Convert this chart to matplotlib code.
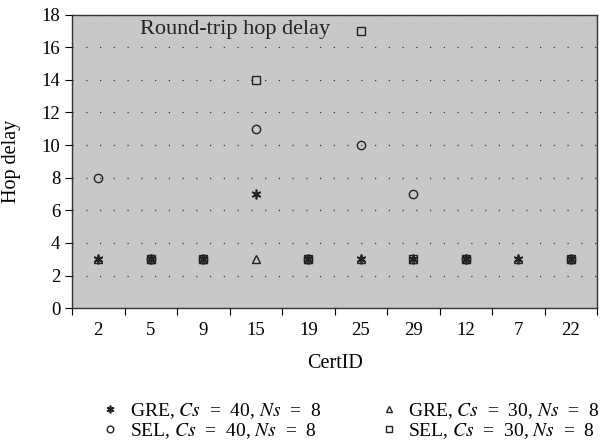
import numpy as np
import matplotlib.pyplot as plt
from matplotlib.ticker import FixedLocator, NullFormatter

# === Data ===
cert_ids = ["2", "5", "9", "15", "19", "25", "29", "12", "7", "22"]
gre_cs40 = [3, 3, 3, 7, 3, 3, 3, 3, 3, 3]
sel_cs40 = [8, 3, 3, 11, 3, 10, 7, 3, np.nan, 3]
gre_cs30 = [3, 3, 3, 3, 3, 3, 3, 3, 3, 3]
sel_cs30 = [np.nan, 3, 3, 14, 3, 17, 3, 3, np.nan, 3]
y_ticks = list(range(0, 19, 2))

plt.rcParams['font.family'] = ['Liberation Serif', 'DejaVu Serif']
plt.rcParams['mathtext.fontset'] = 'stix'

fig = plt.figure(figsize=(6.05, 4.44), dpi=100)
ax = fig.add_axes([0.119, 0.306, 0.868, 0.661])
ax.set_facecolor('#c8c8ca')

x = np.arange(len(cert_ids))
ax.plot(x, gre_cs40, linestyle='none', marker=(6, 2, 0), ms=7, mew=1.2, color='#222222',
        label='GRE, $Cs$  =  40, $Ns$  =  8')
ax.plot(x, sel_cs40, linestyle='none', marker='o', ms=6, mfc='none', mew=1.0, color='#222222',
        label='SEL, $Cs$  =  40, $Ns$  =  8')
ax.plot(x, gre_cs30, linestyle='none', marker='^', ms=5.5, mfc='none', mew=1.0, color='#222222',
        label='GRE, $Cs$  =  30, $Ns$  =  8')
ax.plot(x, sel_cs30, linestyle='none', marker='s', ms=6, mfc='none', mew=1.0, color='#222222',
        label='SEL, $Cs$  =  30, $Ns$  =  8')

# axes / ticks
ax.set_xlim(-0.5, len(cert_ids) - 0.5)
ax.set_ylim(0, 18)
ax.set_yticks(y_ticks)
ax.xaxis.set_major_locator(FixedLocator(np.arange(-0.5, len(cert_ids), 1)))
ax.xaxis.set_major_formatter(NullFormatter())
ax.set_xticks(x, minor=True)
ax.set_xticklabels(cert_ids, minor=True)
ax.tick_params(axis='x', which='minor', length=0, labelsize=13.5, pad=10)
ax.tick_params(axis='x', which='major', length=5, direction='out')
ax.tick_params(axis='y', length=5, direction='out', labelsize=13.5)

ax.yaxis.grid(True, linestyle=(0, (1, 10)), color='#333333', linewidth=0.9)
ax.set_axisbelow(True)
for s in ax.spines.values():
    s.set_color('#333333')
    s.set_linewidth(1.0)

ax.set_xlabel('CertID', fontsize=14.5)
ax.xaxis.set_label_coords(0.5, -0.155)
ax.set_ylabel('Hop delay', fontsize=14.5)
ax.yaxis.set_label_coords(-0.098, 0.5)
ax.text(0.13, 0.934, 'Round-trip hop delay', transform=ax.transAxes,
        fontsize=16, va='baseline', ha='left', color='#222222')

fig.legend(loc='upper left', bbox_to_anchor=(0.15, 0.114), ncol=2, frameon=False,
           fontsize=14, handletextpad=0.4, columnspacing=2.9, labelspacing=0.0,
           markerscale=0.8, handlelength=1.2, borderaxespad=0)

fig.savefig('out.png', dpi=100)
